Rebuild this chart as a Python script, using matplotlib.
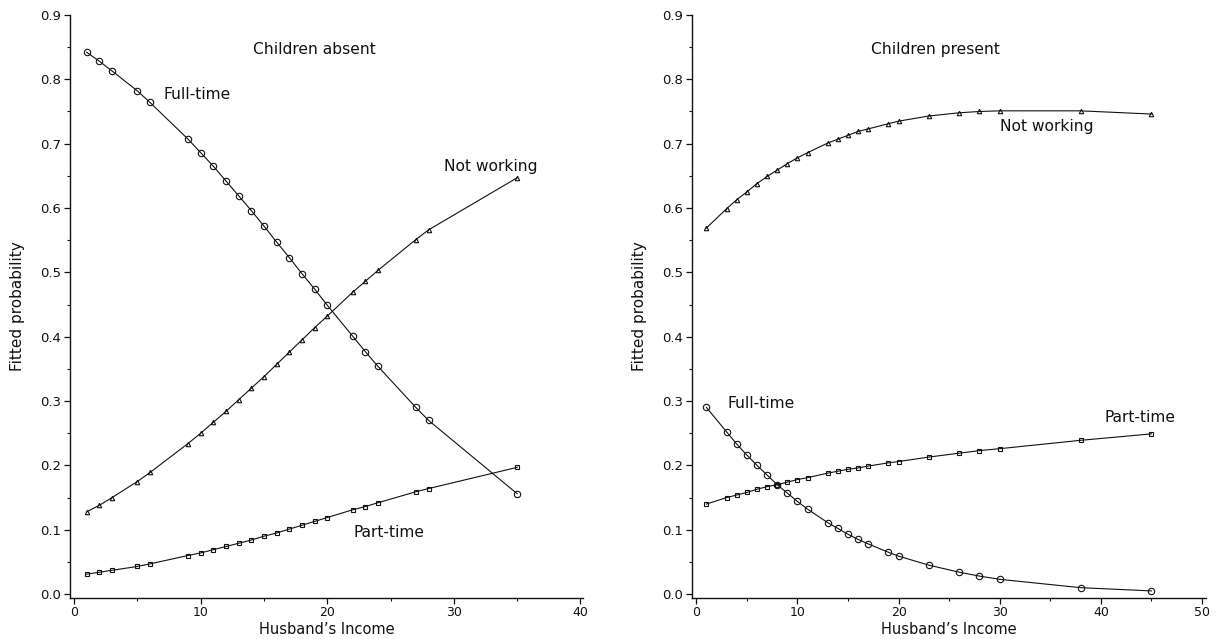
import matplotlib
matplotlib.use("Agg")
import matplotlib.pyplot as plt
from matplotlib.ticker import MultipleLocator, FormatStrFormatter

# Husband's income values and fitted probabilities, children absent
income_absent = [1, 2, 3, 5, 6, 9, 10, 11, 12, 13, 14, 15, 16, 17, 18, 19, 20, 22, 23, 24, 27, 28, 35]
fulltime_absent = [0.842, 0.828, 0.813, 0.782, 0.764, 0.707, 0.686, 0.665, 0.642, 0.619, 0.596, 0.572,
                   0.547, 0.523, 0.498, 0.474, 0.449, 0.401, 0.377, 0.354, 0.290, 0.270, 0.156]
parttime_absent = [0.031, 0.034, 0.037, 0.043, 0.047, 0.060, 0.064, 0.069, 0.074, 0.079, 0.084, 0.090,
                   0.095, 0.101, 0.107, 0.113, 0.119, 0.131, 0.136, 0.142, 0.159, 0.164, 0.197]
notworking_absent = [0.128, 0.138, 0.150, 0.175, 0.189, 0.234, 0.250, 0.267, 0.284, 0.302, 0.320, 0.338,
                     0.357, 0.376, 0.395, 0.414, 0.432, 0.469, 0.486, 0.503, 0.551, 0.566, 0.647]

# Husband's income values and fitted probabilities, children present
income_present = [1, 3, 4, 5, 6, 7, 8, 9, 10, 11, 13, 14, 15, 16, 17, 19, 20, 23, 26, 28, 30, 38, 45]
fulltime_present = [0.290, 0.252, 0.233, 0.216, 0.200, 0.185, 0.170, 0.157, 0.144, 0.132, 0.111, 0.102,
                    0.093, 0.085, 0.078, 0.065, 0.059, 0.045, 0.034, 0.028, 0.023, 0.010, 0.005]
parttime_present = [0.140, 0.150, 0.154, 0.158, 0.163, 0.167, 0.170, 0.174, 0.178, 0.181, 0.188, 0.191,
                    0.194, 0.196, 0.199, 0.204, 0.206, 0.213, 0.219, 0.223, 0.226, 0.239, 0.249]
notworking_present = [0.569, 0.599, 0.613, 0.625, 0.638, 0.649, 0.659, 0.669, 0.678, 0.686, 0.701, 0.707,
                      0.713, 0.719, 0.723, 0.731, 0.735, 0.743, 0.748, 0.750, 0.751, 0.751, 0.746]

plt.rcParams["font.family"] = ["DejaVu Sans"]
INK = "#111111"

fig = plt.figure(figsize=(12.24, 6.39), dpi=100)
ax_left = fig.add_axes([0.0572, 0.0642, 0.4191, 0.9124])
ax_right = fig.add_axes([0.5656, 0.0642, 0.4197, 0.9124])

line_kw = dict(color=INK, linewidth=0.8)


def draw_panel(ax, x, ft, pt, nw, xlim):
    ax.plot(x, ft, marker="o", markersize=4.6, markerfacecolor="none",
            markeredgecolor=INK, markeredgewidth=0.8, **line_kw)
    ax.plot(x, nw, marker="^", markersize=3.2, markerfacecolor="none",
            markeredgecolor=INK, markeredgewidth=0.8, **line_kw)
    ax.plot(x, pt, marker="s", markersize=2.8, markerfacecolor="none",
            markeredgecolor=INK, markeredgewidth=0.8, **line_kw)
    ax.set_xlim(*xlim)
    ax.set_ylim(-0.006, 0.9)
    ax.xaxis.set_major_locator(MultipleLocator(10))
    ax.xaxis.set_minor_locator(MultipleLocator(5))
    ax.yaxis.set_major_locator(MultipleLocator(0.1))
    ax.yaxis.set_minor_locator(MultipleLocator(0.05))
    ax.yaxis.set_major_formatter(FormatStrFormatter("%.1f"))
    for s in ("top", "right"):
        ax.spines[s].set_visible(False)
    for s in ("left", "bottom"):
        ax.spines[s].set_linewidth(1.0)
        ax.spines[s].set_color(INK)
    ax.tick_params(which="major", length=4, width=0.9, colors=INK, labelsize=9.5, pad=2.5)
    ax.tick_params(axis="x", which="major", labelsize=9, pad=1.5)
    ax.tick_params(which="minor", length=2, width=0.8, colors=INK)
    ax.set_xlabel("Husband\u2019s Income", fontsize=10.5, color=INK)
    ax.xaxis.label.set_va("bottom")
    ax.xaxis.set_label_coords(0.5, -0.0669)
    ax.set_ylabel("Fitted probability", fontsize=11, color=INK)
    ax.yaxis.label.set_va("center")
    ax.yaxis.set_label_coords(-0.103, 0.5)


draw_panel(ax_left, income_absent, fulltime_absent, parttime_absent, notworking_absent, (-0.32, 40.2))
draw_panel(ax_right, income_present, fulltime_present, parttime_present, notworking_present, (-0.4, 50.4))

txt = dict(fontsize=11.2, color=INK, ha="left", va="baseline")
ax_left.text(14.1, 0.839, "Children absent", **txt)
ax_left.text(7.1, 0.769, "Full-time", **txt)
ax_left.text(29.25, 0.658, "Not working", **txt)
ax_left.text(22.05, 0.089, "Part-time", **txt)

ax_right.text(17.3, 0.839, "Children present", **txt)
ax_right.text(30.0, 0.719, "Not working", **txt)
ax_right.text(3.1, 0.289, "Full-time", **txt)
ax_right.text(40.4, 0.268, "Part-time", **txt)

fig.savefig("out.png", dpi=100)
